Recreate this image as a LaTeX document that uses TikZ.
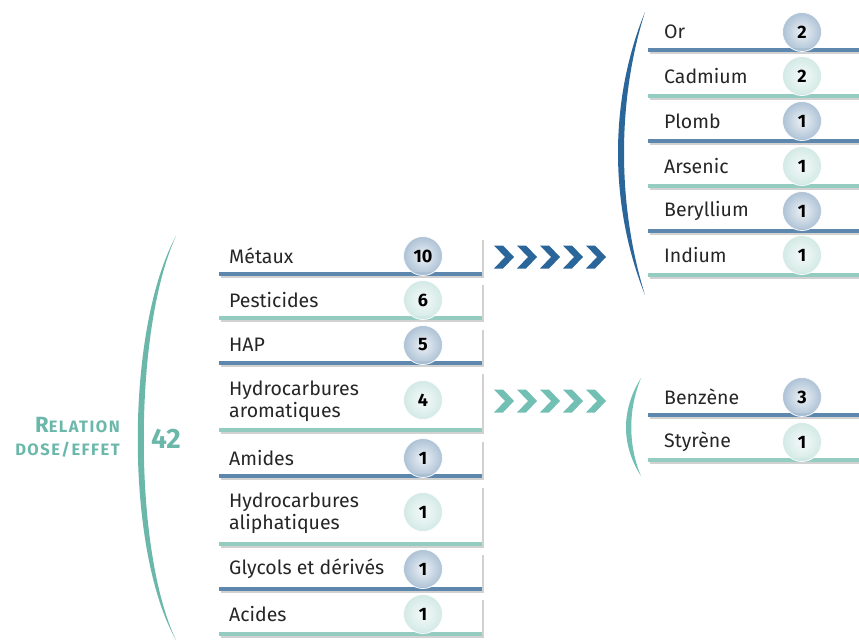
\documentclass[tikz,border=0pt]{standalone}
\usepackage{fontspec}
\setmainfont{Fira Sans}
\usepackage{xcolor}
\definecolor{barblue}{HTML}{5E87AE}
\definecolor{barteal}{HTML}{95CCC2}
\definecolor{arrblue}{HTML}{2A6699}
\definecolor{arrteal}{HTML}{72BFB3}
\definecolor{labteal}{HTML}{6BB8AB}

\begin{document}
\begin{tikzpicture}[x=1pt, y=-1pt,
      every node/.style={inner sep=0pt},
      rowbox/.style={fill=white, preaction={fill=black!18,
          transform canvas={shift={(1.5,1.5)}}}},
      lbl/.style={anchor=west, align=left, text=black!85,
          font=\fontsize{19.5}{22}\selectfont},
      nb/.style={circle, minimum size=39pt, opacity=0.92, text opacity=1,
          draw=white, line width=0.8pt, font=\fontsize{18}{18}\selectfont\bfseries},
      nbblue/.style={nb, inner color=white!88!barblue, outer color=white!45!barblue},
      nbteal/.style={nb, inner color=white!90!barteal, outer color=white!55!barteal}]
    \useasboundingbox (0,0) rectangle (859,643);
    \clip (0,0) rectangle (859,643);

    % left label and bracket
    \node[anchor=east, align=right, text=labteal,
          font=\fontsize{16.5}{23}\selectfont\bfseries\addfontfeature{LetterSpace=9}]
      (relation) at (120,437)
      {{\fontsize{22}{23}\selectfont R}ELATION\\DOSE/EFFET};
    \node[text=labteal, font=\fontsize{28}{28}\selectfont\bfseries] (total) at (166,439) {42};
    \fill[labteal] (176,236) .. controls (125,330) and (125,550) .. (176,640)
      .. controls (133,550) and (133,330) .. (176,236);

    % left column
    \draw[draw=none, rowbox] (219,238) rectangle (482,276); \fill[barblue] (219,272) rectangle (482,276);
    \node[lbl] (metaux) at (229,256) {Métaux}; \node[nbblue] (n-metaux) at (423,256) {10};
    \draw[draw=none, rowbox] (219,283) rectangle (482,320); \fill[barteal] (219,316) rectangle (482,320);
    \node[lbl] (pesticides) at (229,300) {Pesticides}; \node[nbteal] (n-pesticides) at (423,300) {6};
    \draw[draw=none, rowbox] (219,328) rectangle (482,365); \fill[barblue] (219,361) rectangle (482,365);
    \node[lbl] (hap) at (229,345) {HAP}; \node[nbblue] (n-hap) at (423,345) {5};
    \draw[draw=none, rowbox] (219,372) rectangle (482,432); \fill[barteal] (219,428) rectangle (482,432);
    \node[lbl] (hydroarom) at (229,401) {Hydrocarbures\\aromatiques}; \node[nbteal] (n-hydroarom) at (423,400) {4};
    \draw[draw=none, rowbox] (219,440) rectangle (482,478); \fill[barblue] (219,474) rectangle (482,478);
    \node[lbl] (amides) at (229,458) {Amides}; \node[nbblue] (n-amides) at (423,458) {1};
    \draw[draw=none, rowbox] (219,486) rectangle (482,546); \fill[barteal] (219,542) rectangle (482,546);
    \node[lbl] (hydroaliph) at (229,513) {Hydrocarbures\\aliphatiques}; \node[nbteal] (n-hydroaliph) at (423,512) {1};
    \draw[draw=none, rowbox] (219,553) rectangle (482,591); \fill[barblue] (219,587) rectangle (482,591);
    \node[lbl] (glycols) at (229,569) {Glycols et dérivés}; \node[nbblue] (n-glycols) at (423,569) {1};
    \draw[draw=none, rowbox] (219,598) rectangle (482,636); \fill[barteal] (219,632) rectangle (482,636);
    \node[lbl] (acides) at (229,614) {Acides}; \node[nbteal] (n-acides) at (423,614) {1};

    % chevrons
    \foreach \x in {494,517,540,563,586} {
      \fill[arrblue] (\x,245.5) -- ++(9,0) -- ++(11,11.5) -- ++(-11,11.5) -- ++(-9,0) -- ++(11,-11.5) -- cycle;
      \fill[arrteal] (\x,389.5) -- ++(9,0) -- ++(11,11.5) -- ++(-11,11.5) -- ++(-9,0) -- ++(11,-11.5) -- cycle;
    }

    % metals
    \fill[arrblue] (645,12) .. controls (609,100) and (609,205) .. (645,295)
      .. controls (617,205) and (617,100) .. (645,12);
    \draw[draw=none, rowbox] (648,14) rectangle (870,52); \fill[barblue] (648,48) rectangle (870,52);
    \node[lbl] (or) at (664,32) {Or}; \node[nbblue] (n-or) at (802,32) {2};
    \draw[draw=none, rowbox] (648,59) rectangle (870,98); \fill[barteal] (648,94) rectangle (870,98);
    \node[lbl] (cadmium) at (664,76) {Cadmium}; \node[nbteal] (n-cadmium) at (802,76) {2};
    \draw[draw=none, rowbox] (648,104) rectangle (870,143); \fill[barblue] (648,139) rectangle (870,143);
    \node[lbl] (plomb) at (664,121) {Plomb}; \node[nbblue] (n-plomb) at (802,121) {1};
    \draw[draw=none, rowbox] (648,149) rectangle (870,188); \fill[barteal] (648,184) rectangle (870,188);
    \node[lbl] (arsenic) at (664,166) {Arsenic}; \node[nbteal] (n-arsenic) at (802,166) {1};
    \draw[draw=none, rowbox] (648,194) rectangle (870,233); \fill[barblue] (648,229) rectangle (870,233);
    \node[lbl] (beryllium) at (664,211) {Beryllium}; \node[nbblue] (n-beryllium) at (802,211) {1};
    \draw[draw=none, rowbox] (648,239) rectangle (870,277); \fill[barteal] (648,273) rectangle (870,277);
    \node[lbl] (indium) at (664,255) {Indium}; \node[nbteal] (n-indium) at (802,255) {1};

    % aromatics
    \fill[arrteal] (641,378) .. controls (621,410) and (621,445) .. (641,476)
      .. controls (628,445) and (628,410) .. (641,378);
    \draw[draw=none, rowbox] (648,380) rectangle (870,417); \fill[barblue] (648,413) rectangle (870,417);
    \node[lbl] (benzene) at (664,397) {Benzène}; \node[nbblue] (n-benzene) at (802,397) {3};
    \draw[draw=none, rowbox] (648,424) rectangle (870,462); \fill[barteal] (648,458) rectangle (870,462);
    \node[lbl] (styrene) at (664,442) {Styrène}; \node[nbteal] (n-styrene) at (802,442) {1};
  \end{tikzpicture}
\end{document}
